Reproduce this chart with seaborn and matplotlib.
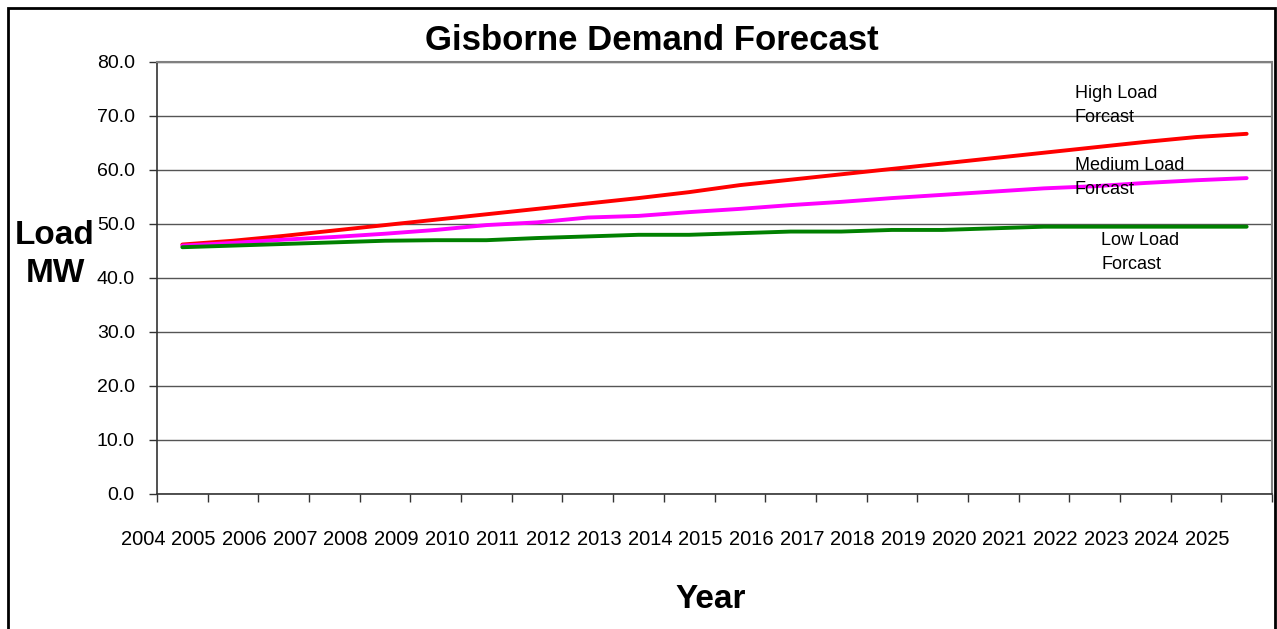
import seaborn as sns
import matplotlib.pyplot as plt
import matplotlib.transforms as mtransforms
import pandas as pd
from matplotlib.patches import Rectangle

years = list(range(2004, 2026))
high_load = [46.2, 46.9, 47.8, 48.8, 49.8, 50.8, 51.8, 52.8, 53.8, 54.8, 55.9,
             57.2, 58.2, 59.2, 60.2, 61.2, 62.2, 63.2, 64.2, 65.2, 66.1, 66.7]
medium_load = [46.0, 46.5, 47.1, 47.6, 48.2, 48.9, 49.8, 50.3, 51.2, 51.5, 52.2,
               52.8, 53.5, 54.1, 54.8, 55.4, 56.0, 56.6, 57.0, 57.6, 58.1, 58.5]
low_load = [45.7, 46.0, 46.3, 46.6, 46.9, 47.0, 47.0, 47.4, 47.7, 48.0, 48.0,
            48.3, 48.6, 48.6, 48.9, 48.9, 49.2, 49.5, 49.5, 49.5, 49.5, 49.5]
series_names = ["High", "Medium", "Low"]
series_colors = ["#FF0000", "#FF00FF", "#008000"]

idx = list(range(len(years)))
df = pd.concat([
    pd.DataFrame({"idx": idx, "load": high_load, "series": "High"}),
    pd.DataFrame({"idx": idx, "load": medium_load, "series": "Medium"}),
    pd.DataFrame({"idx": idx, "load": low_load, "series": "Low"}),
])

sns.set_style("white")
plt.rcParams["font.family"] = ["Liberation Sans", "DejaVu Sans"]
plt.rcParams["text.color"] = "black"
plt.rcParams["xtick.color"] = "black"
plt.rcParams["ytick.color"] = "black"

fig = plt.figure(figsize=(12.77, 6.29), dpi=100)
ax = fig.add_axes([157 / 1277, 1 - 494 / 629, (1272 - 157) / 1277, (494 - 62) / 629])

sns.lineplot(data=df, x="idx", y="load", hue="series", hue_order=series_names,
             palette=series_colors, linewidth=2.8, legend=False, ax=ax)

ax.set_yticks(range(0, 81, 10))
ax.set_yticklabels([f"{v:.1f}" for v in range(0, 81, 10)], fontsize=14)
ax.yaxis.grid(True, color="#555555", linewidth=1)
ax.tick_params(axis="y", length=6, width=1, pad=10, left=True, color="#333333")

# tick marks at category boundaries; labels nudged left like the original
ax.set_xticks([i - 0.5 for i in range(len(years) + 1)])
ax.set_xticklabels([str(y) for y in years] + [""], fontsize=14.5)
ax.tick_params(axis="x", length=6, width=1, bottom=True, color="#333333", pad=20)
shift = mtransforms.ScaledTranslation(-0.14, 0, fig.dpi_scale_trans)
for lab in ax.get_xticklabels():
    lab.set_transform(lab.get_transform() + shift)

ax.set_xlim(-0.5, len(years) - 0.5)
ax.set_ylim(0, 80)

for s in ["left", "bottom"]:
    ax.spines[s].set_color("#333333")
    ax.spines[s].set_linewidth(1.2)
for s in ["top", "right"]:
    ax.spines[s].set_color("#808080")
    ax.spines[s].set_linewidth(1.5)

ax.set_xlabel("")
ax.set_ylabel("")

ax.text(17.61, 71.9, "High Load\nForcast", fontsize=13, va="center", ha="left", linespacing=1.55)
ax.text(17.61, 58.6, "Medium Load\nForcast", fontsize=13, va="center", ha="left", linespacing=1.55)
ax.text(18.13, 44.7, "Low Load\nForcast", fontsize=13, va="center", ha="left", linespacing=1.55)

fig.text(652 / 1277, 1 - 40 / 629, "Gisborne Demand Forecast", fontsize=25,
         fontweight="bold", ha="center", va="center")
fig.text(55 / 1277, 1 - 236 / 629, "Load", fontsize=24, fontweight="bold",
         ha="center", va="center")
fig.text(55 / 1277, 1 - 273 / 629, "MW", fontsize=24, fontweight="bold",
         ha="center", va="center")
fig.text(711 / 1277, 1 - 599 / 629, "Year", fontsize=24, fontweight="bold",
         ha="center", va="center")

fig.patches.append(Rectangle((8 / 1277, -0.05), (1275 - 8) / 1277, 1.05 - 8 / 629,
                             transform=fig.transFigure, fill=False,
                             edgecolor="black", linewidth=2))

fig.savefig("out.png", dpi=100)
